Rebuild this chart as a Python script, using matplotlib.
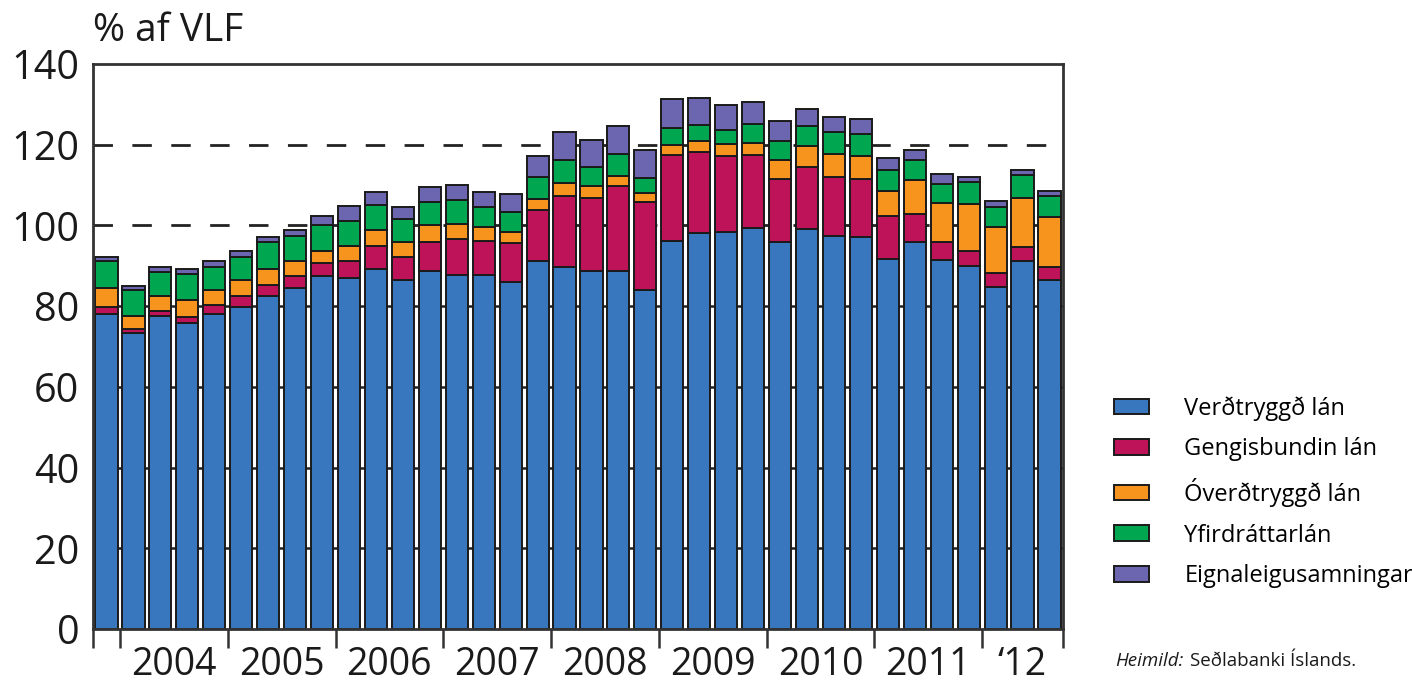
import matplotlib.pyplot as plt
import numpy as np

plt.rcParams['font.family'] = ['Open Sans', 'DejaVu Sans']

# ársfjórðungar frá 4. ársfj. 2003 til 3. ársfj. 2012
years = ['2004', '2005', '2006', '2007', '2008', '2009', '2010', '2011', '\u201812']

verdtryggd = [78.1, 73.3, 77.6, 75.8, 78.1, 79.9, 82.6, 84.5, 87.5, 86.9, 89.2, 86.4,
              88.6, 87.8, 87.8, 86.1, 91.1, 89.7, 88.8, 88.6, 84.0, 96.2, 98.1, 98.3,
              99.3, 95.8, 99.1, 97.4, 97.1, 91.7, 95.9, 91.5, 90.0, 84.7, 91.1, 86.4]
gengisbundin = [1.8, 1.0, 1.3, 1.6, 2.2, 2.5, 2.7, 3.0, 3.2, 4.2, 5.6, 5.7,
                7.4, 8.8, 8.4, 9.5, 12.8, 17.7, 18.0, 21.2, 21.7, 21.3, 20.2, 18.8,
                18.1, 15.8, 15.5, 14.6, 14.4, 10.7, 7.0, 4.5, 3.6, 3.5, 3.5, 3.3]
overdtryggd = [4.6, 3.3, 3.7, 4.0, 3.7, 4.0, 3.9, 3.6, 3.0, 3.9, 4.1, 3.7,
               4.2, 3.8, 3.3, 2.7, 2.6, 3.1, 2.9, 2.5, 2.3, 2.5, 2.5, 3.1,
               3.0, 4.5, 5.2, 5.8, 5.8, 6.2, 8.3, 9.5, 11.7, 11.3, 12.2, 12.5]
yfirdrattur = [6.7, 6.3, 5.9, 6.5, 5.7, 5.9, 6.6, 6.2, 6.3, 6.2, 6.1, 5.9,
               5.5, 6.0, 5.0, 5.1, 5.5, 5.6, 4.9, 5.3, 3.7, 4.1, 4.2, 3.5,
               4.8, 4.7, 4.9, 5.3, 5.4, 5.2, 4.9, 4.8, 5.4, 5.0, 5.6, 5.0]
eignaleiga = [1.1, 1.0, 1.3, 1.3, 1.6, 1.3, 1.3, 1.6, 2.4, 3.5, 3.2, 2.8,
              3.8, 3.6, 3.7, 4.4, 5.3, 7.0, 6.5, 7.1, 7.1, 7.2, 6.6, 6.2,
              5.4, 5.0, 4.1, 3.8, 3.7, 2.9, 2.5, 2.4, 1.4, 1.5, 1.4, 1.4]

series = [
    ('Verðtryggð lán', verdtryggd, '#3876BE'),
    ('Gengisbundin lán', gengisbundin, '#BE1259'),
    ('Óverðtryggð lán', overdtryggd, '#F7941D'),
    ('Yfirdráttarlán', yfirdrattur, '#00A650'),
    ('Eignaleigusamningar', eignaleiga, '#6C66B0'),
]

fig = plt.figure(figsize=(14.12, 6.81), dpi=100)
ax = fig.add_axes([0.0659, 0.0764, 0.6869, 0.8296])

x = np.arange(len(verdtryggd))
bottom = np.zeros(len(x))
for name, vals, col in series:
    ax.bar(x, vals, 0.82, bottom=bottom, color=col, edgecolor='#1a1a1a',
           linewidth=1.4, label=name, zorder=3)
    bottom += np.array(vals)

# hjálparlínur
for v in [20, 40, 60, 80]:
    ax.axhline(v, color='#222222', lw=1.8, zorder=1)
for v in [100, 120]:
    ax.axhline(v, color='#222222', lw=2, ls=(0, (7, 7)), zorder=1)

ax.set_xlim(-0.5, len(x) - 0.5)
ax.set_ylim(0, 140)
ax.set_yticks(range(0, 141, 20))
ax.tick_params(axis='y', length=0, labelsize=28.5, pad=10, colors='#1a1a1a')

edges = [-0.5, 0.5] + [0.5 + 4 * k for k in range(1, 9)] + [len(x) - 0.5]
ax.set_xticks(edges)
ax.set_xticklabels([])
ax.tick_params(axis='x', length=14, width=1.8, colors='#333333')
centers = [2.5 + 4 * k for k in range(8)] + [34]
ax.set_xticks(centers, minor=True)
ax.set_xticklabels(years, minor=True)
ax.tick_params(axis='x', which='minor', length=0, labelsize=27, pad=12,
               labelcolor='#1a1a1a')

for s in ax.spines.values():
    s.set_color('#333333')
    s.set_linewidth(2)
    s.set_zorder(4)

fig.text(0.066, 0.955, '% af VLF', fontsize=28, va='center', ha='left',
         color='#1a1a1a')

ax.legend(loc='upper left', bbox_to_anchor=(0.789, 0.418),
          bbox_transform=fig.transFigure, frameon=False, fontsize=17,
          handlelength=1.48, handleheight=0.64, handletextpad=1.5,
          labelspacing=0.70, borderaxespad=0, borderpad=0)

t1 = fig.text(0.79, 0.03, 'Heimild:', fontsize=13.5, style='italic',
              ha='left', va='center', color='#1a1a1a')
fig.canvas.draw()
bb = t1.get_window_extent().transformed(fig.transFigure.inverted())
fig.text(bb.x1 + 0.004, 0.03, 'Seðlabanki Íslands.', fontsize=13.5,
         ha='left', va='center', color='#1a1a1a')

fig.savefig('out.png', dpi=100)
